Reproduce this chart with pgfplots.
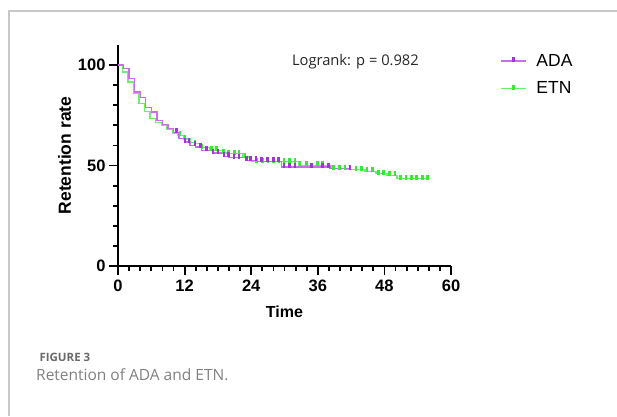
\documentclass[border=0pt]{standalone}
\usepackage{pgfplots}
\pgfplotsset{compat=1.18}
\usepackage{pgfplotstable}
\usepackage{fontspec}
\setmainfont{Liberation Sans}
\newfontfamily\opensans{Open Sans}
\definecolor{adac}{RGB}{160,55,210}
\definecolor{adal}{RGB}{200,110,235}
\definecolor{etnc}{RGB}{50,235,50}
\definecolor{etnl}{RGB}{105,240,105}
\definecolor{capgray}{RGB}{105,105,105}
\definecolor{bordergray}{RGB}{200,200,200}

\pgfplotstableread{
t v
0 100
1 98.2
2 93.2
3 86.6
4 84
5 78.8
6 76.6
7 72.5
8 70.5
9 68.4
10 66.5
11 63.5
12 61.7
13 60
14 59.2
15 57.6
17 56.2
19 54.6
20 53.9
23 52.6
25 52.1
29.5 49.3
38.2 48.5
42 48.5
}\adaline

\pgfplotstableread{
t v
10.5 66.5
12.1 61.7
12.8 61.7
13.9 60
14.9 59.2
15.9 57.6
17.1 56.2
18 56.2
19.1 54.6
19.9 54.6
20.9 53.9
21.8 53.9
23.2 52.6
23.9 52.6
24.9 52.6
25.9 52.1
26.9 52.1
28 52.1
28.9 52.1
29.9 49.3
30.9 49.3
31.9 49.3
34.9 49.3
36.9 49.3
37.9 49.3
41.8 48.5
}\adamarks

\pgfplotstableread{
t v
0 100
0.8 96.5
1.8 91.5
2.8 85.8
3.8 80.8
4.8 77
5.8 73.5
6.8 71.3
7.8 70
8.8 68
9.8 66
10.8 65
11.8 63.3
13 61.5
13.8 60.9
14.8 58.9
16.5 57.6
18.8 56.2
19.8 55.9
22.5 54.2
24 51.9
32.5 50.1
38.5 48.5
41 48
44.5 47.1
46.5 46
48.5 45.1
50.3 43.5
56 43.5
}\etnline

\pgfplotstableread{
t v
11.2 65
12.1 63.3
13.9 60.9
15.1 58.9
16.9 57.6
17.8 57.6
19 56.2
19.9 55.9
21 55.9
21.8 55.9
22.9 54.2
25 51.9
26 51.9
27 51.9
28 51.9
29 51.9
29.9 51.9
30.9 51.9
31.9 51.9
32.8 50.1
34 50.1
35.9 50.1
36.9 50.1
38.8 48.5
39.9 48.5
40.9 48.5
42.9 48
43.9 48
44.9 47.1
45.9 47.1
46.9 46
47.8 46
48.9 45.1
49.9 45.1
50.9 43.5
51.9 43.5
52.9 43.5
53.8 43.5
54.9 43.5
55.8 43.5
}\etnmarks

\begin{document}
\begin{tikzpicture}[x=1pt,y=1pt]
\path[use as bounding box] (0,0) rectangle (617,416);
\draw[bordergray, line width=1.3pt] (9,0) -- (9,405) -- (617,405);
\begin{axis}[
  at={(118pt,150pt)}, anchor=south west,
  scale only axis, width=333pt, height=221pt,
  xmin=0, xmax=60, ymin=0, ymax=110,
  axis lines=left, axis line style={line width=1.8pt, -},
  clip=false,
  xtick={0,12,24,36,48,60}, minor xtick={2,4,...,58},
  ytick={0,50,100}, minor ytick={10,20,30,40,60,70,80,90},
  tick align=outside,
  major tick length=9pt, minor tick length=5pt,
  every tick/.style={black, line width=1.8pt},
  tick label style={font=\fontsize{16.5}{18}\selectfont\bfseries},
  xticklabel style={yshift=-1pt},
  /pgf/number format/assume math mode=true,
  xlabel={Time}, ylabel={Retention rate},
  xlabel style={font=\fontsize{16}{18}\selectfont\bfseries, yshift=-8pt},
  ylabel style={font=\fontsize{17.5}{19}\selectfont\bfseries},
  legend style={draw=none, fill=none, at={(axis description cs:1.147,0.968)}, anchor=north west,
    font=\fontsize{17.5}{20}\selectfont, row sep=10pt, inner sep=0pt,
    legend cell align=left},
  legend image code/.code={
    \draw[#1, mark=none] (0pt,0pt) -- (25pt,0pt);
    \draw[#1, mark repeat=2, mark phase=2, draw=none] plot coordinates {(0pt,0pt) (12.5pt,0pt) (25pt,0pt)};
    \path (33pt,0pt);
  },
]
\addlegendimage{adal, line width=1.3pt, mark=|, mark size=2.5pt, mark options={adac, line width=2.5pt, yshift=1.5pt}}
\addlegendentry{ADA}
\addlegendimage{etnl, line width=1.3pt, mark=|, mark size=2.5pt, mark options={etnc, line width=2.5pt, yshift=1.5pt}}
\addlegendentry{ETN}

\addplot[const plot, etnl, line width=1.4pt, forget plot] table {\etnline};
\addplot[only marks, mark=|, mark size=2.5pt, mark options={etnc, line width=2.6pt, yshift=1.5pt}, forget plot] table {\etnmarks};
\addplot[const plot, adal, line width=1.4pt, forget plot] table {\adaline};
\addplot[only marks, mark=|, mark size=2.5pt, mark options={adac, line width=2.6pt, yshift=1.5pt}, forget plot] table {\adamarks};

\node[anchor=west, inner sep=0pt, font=\opensans\fontsize{14.7}{17}\selectfont, text=black!85] at (axis description cs:0.522,0.925) {Logrank: p = 0.982};
\end{axis}
\node[anchor=base west, font=\opensans\bfseries\fontsize{11.5}{13}\selectfont, text=capgray] at (36,55) {FIGURE 3};
\node[anchor=base west, inner sep=0pt, font=\opensans\fontsize{15.5}{17}\selectfont, text=capgray!85] at (36,36) {Retention of ADA and ETN.};
\end{tikzpicture}
\end{document}
